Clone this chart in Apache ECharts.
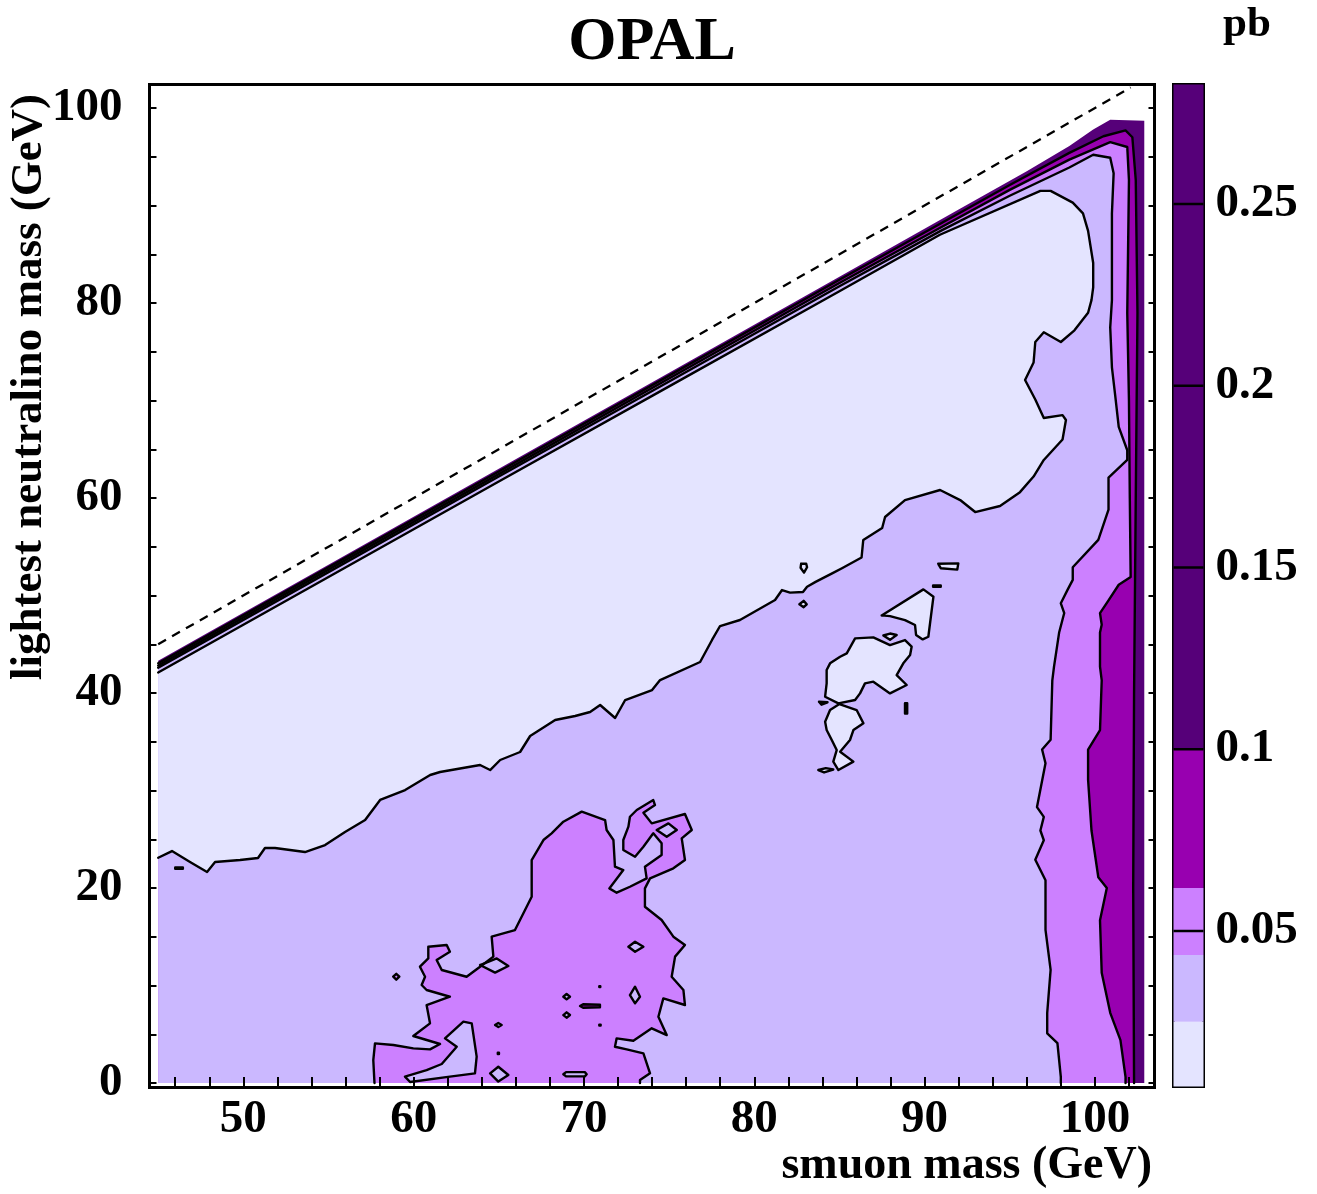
<!DOCTYPE html>
<html><head><meta charset="utf-8">
<script src="https://cdn.jsdelivr.net/npm/echarts@6/dist/echarts.min.js"></script>
<style>html,body{margin:0;padding:0;background:#fff}#c{width:1317px;height:1194px}</style>
</head><body><div id="c"></div>
<script>
const FONT = '"Liberation Serif","Times New Roman","DejaVu Serif",serif';

// ---- axes / scale ----
const smuonTicks = [46,48,50,52,54,56,58,60,62,64,66,68,70,72,74,76,78,80,82,84,86,88,90,92,94,96,98,100,102];
const smuonLabels = [50,60,70,80,90,100];
const neutralinoTicks = [0,5,10,15,20,25,30,35,40,45,50,55,60,65,70,75,80,85,90,95,100];
const neutralinoLabels = [0,20,40,60,80,100];
const scaleLabels = [0.05,0.1,0.15,0.2,0.25];
const contourLevels = [0.05,0.1,0.15,0.2,0.25];
const bandEdges = [0.0,0.025,0.0434,0.0618,0.1,0.3];
const bandColors = ['#E4E4FF','#CBB8FF','#CC80FF','#9800B0','#560079'];
const kinematicLimit = [[45,45],[102.1,102.1]];

// ---- contour regions (smuon mass, neutralino mass) ----
const contourDark = [[45,0],[45,43.3],[55,53.15],[65,63.0],[75,72.85],[85,82.7],[92,89.6],[96,93.5],[98.5,96.1],[99.9,97.8],[100.9,98.8],[102.9,98.7],[102.9,0]];
const contourMagenta = [[45,0],[45,43.05],[55,52.9],[65,62.72],[75,72.55],[85,82.38],[91,88.2],[95,92.1],[98.5,95.4],[100.5,97.1],[101.8,97.7],[102.2,97.0],[102.4,92.6],[102.5,79.0],[102.4,60.0],[102.3,40.0],[102.25,20.0],[102.3,0]];
const contourPink = [[45,0],[45,42.82],[55,52.65],[65,62.45],[75,72.25],[85,82.05],[91,87.8],[95,91.6],[98.5,94.7],[100.9,96.5],[101.9,96.0],[102.0,92.6],[101.9,79.0],[102.0,70.0],[102.05,60.0],[102.1,51.9],[101.4,51.1],[100.8,49.5],[100.3,48.2],[100.4,47.0],[100.3,46.2],[100.3,42.7],[100.4,41.3],[100.3,36.2],[99.6,34.2],[99.6,31.1],[99.8,25.9],[100.2,21.1],[100.7,20.0],[100.3,16.7],[100.4,11.3],[100.9,7.2],[101.5,4.4],[101.8,0.6],[101.8,0]];
const contourLavender = [[45,0],[45,42.6],[55,52.4],[65,62.2],[75,71.95],[85,81.72],[91,87.45],[95,91.0],[98.5,93.9],[99.9,95.2],[100.9,94.9],[101.1,93.3],[101.0,89.2],[101.0,84.1],[101.0,80.3],[100.9,77.5],[101.0,73.4],[101.2,70.4],[101.4,67.3],[101.9,64.9],[101.9,63.9],[100.8,62.1],[100.8,58.8],[100.2,55.7],[98.7,52.9],[98.7,51.6],[98.4,50.6],[98.0,49.2],[98.2,48.2],[97.9,46.2],[97.6,42.7],[97.5,41.3],[97.4,35.2],[96.9,34.2],[97.1,32.8],[96.6,28.3],[97.0,27.3],[96.8,25.9],[97.0,24.9],[96.5,22.9],[97.1,20.8],[97.1,15.7],[97.4,11.6],[97.2,7.2],[97.2,5.1],[97.8,4.1],[98.0,0.6],[98.0,0]];
const contourLightest = [[45,23.1],[45,42.1],[55,51.9],[65,61.7],[75,71.45],[85,81.2],[90.9,87.0],[96.8,91.5],[97.4,91.5],[98.7,90.3],[99.3,89.2],[99.6,87.4],[99.9,84.1],[99.9,81.6],[99.8,80.3],[99.6,79.0],[98.8,77.2],[98.0,76.0],[97.0,77.0],[96.5,76.0],[96.4,73.9],[95.9,72.1],[96.5,70.1],[97.0,68.2],[98.1,68.5],[98.3,68.0],[98.1,66.0],[97.0,63.9],[96.4,62.2],[95.6,60.6],[94.43,59.18],[92.97,58.56],[92.09,59.79],[90.91,60.82],[88.85,59.79],[87.68,58.05],[87.51,56.92],[86.4,55.7],[86.3,53.9],[85.15,52.8],[84.6,52.3],[83.6,51.4],[83.1,50.9],[82.86,50.36],[82.1,50.3],[81.63,50.56],[81.22,49.54],[79.16,47.49],[77.99,46.87],[77.52,45.44],[76.82,43.18],[74.47,41.33],[74.0,40.3],[72.42,39.28],[71.83,37.44],[70.95,38.77],[70.36,38.05],[69.48,37.64],[68.31,37.23],[66.84,35.59],[66.25,33.95],[65.08,33.13],[64.49,32.1],[63.9,32.62],[61.55,31.9],[60.97,31.59],[59.5,30.05],[58.03,29.03],[57.15,26.97],[55.97,25.74],[54.8,24.4],[53.62,23.69],[51.86,24.1],[51.27,24.1],[50.86,23.08],[49.81,22.87],[48.34,22.67],[47.87,21.64],[46.87,22.67],[45.81,23.79]];
const pinkIsland = [[57.7,0],[57.63,2.36],[57.73,4.07],[58.81,3.9],[59.98,3.55],[60.96,3.45],[61.55,4.0],[59.98,4.82],[60.96,6.12],[60.76,8.0],[62.13,8.85],[60.76,9.54],[60.47,10.05],[60.67,10.9],[60.37,11.93],[60.86,12.78],[60.86,13.98],[61.94,14.15],[62.13,13.47],[61.35,12.61],[61.65,11.59],[63.11,10.9],[63.9,11.93],[64.68,12.96],[64.58,15.01],[65.95,15.69],[66.54,17.74],[66.93,19.11],[66.93,22.87],[67.62,24.92],[68.1,25.61],[68.79,26.8],[69.87,27.83],[71.24,26.97],[71.33,25.95],[71.73,24.92],[71.82,22.19],[72.31,21.84],[71.49,19.96],[71.92,19.52],[72.7,20.13],[73.68,20.99],[73.58,22.19],[74.56,23.38],[74.56,24.58],[74.07,25.61],[73.49,24.24],[73.0,23.21],[72.31,23.9],[72.31,24.92],[72.61,26.29],[72.7,27.31],[73.1,28.0],[74.07,29.02],[74.17,28.51],[73.49,27.73],[73.98,26.63],[75.93,27.59],[76.33,25.95],[75.74,25.09],[75.93,22.87],[75.25,22.02],[73.88,20.99],[73.58,19.96],[73.58,18.08],[74.56,16.72],[75.25,15.01],[75.93,14.15],[75.35,12.96],[75.15,10.9],[75.84,9.54],[75.93,8.0],[74.66,8.68],[74.37,6.8],[74.86,4.92],[73.98,5.61],[72.9,4.34],[71.92,4.58],[71.82,3.72],[72.51,3.45],[73.49,3.04],[73.88,0.99],[73.29,0.3],[73.29,0]];
const pinkSmallIsland = [[58.8,10.9],[58.98,11.2],[59.16,10.9],[58.98,10.6]];
const pinkHoles = [
  [[59.49,0.65],[60.76,1.33],[61.65,1.95],[62.53,3.72],[61.84,4.58],[62.92,6.29],[63.41,6.12],[63.7,2.7],[63.6,0.99],[62.13,0.65],[59.79,0.1]],
  [[63.9,12.1],[64.88,12.78],[65.56,12.0],[64.78,11.32]],
  [[72.61,13.98],[73.0,14.49],[73.49,13.98],[73.0,13.47]],
  [[72.7,9.02],[73.0,9.88],[73.29,8.85],[73.0,8.17]],
  [[64.49,0.99],[64.97,1.67],[65.56,0.82],[64.97,0.15]],
  [[74.27,25.95],[74.96,26.63],[75.45,25.95],[74.86,25.26]],
  [[68.79,8.85],[68.98,9.13],[69.18,8.85],[68.98,8.58]],
  [[68.79,6.97],[68.98,7.25],[69.18,6.97],[68.98,6.7]],
  [[64.78,5.95],[64.97,6.15],[65.17,5.95],[64.97,5.75]],
  [[68.79,0.9],[68.95,1.12],[70.05,1.12],[70.16,0.9],[70.05,0.68],[68.95,0.68]],
  [[64.94,3.1],[65.01,3.1],[65.01,2.98],[64.94,2.98]],
  [[70.9,5.99],[70.98,5.99],[70.98,5.9],[70.9,5.9]],
  [[70.9,9.92],[70.96,9.92],[70.96,9.85],[70.9,9.85]]
];
const magentaSpeck = [[69.77,7.9],[69.95,8.08],[70.94,8.03],[70.94,7.77],[69.95,7.72]];
const lightIslands = [
  [[85.92,45.6],[86.99,45.71],[87.97,44.92],[88.85,45.43],[89.24,44.75],[89.15,43.9],[88.75,43.04],[88.36,41.84],[88.95,40.82],[87.97,39.96],[86.99,41.16],[86.5,40.99],[86.21,39.96],[85.92,39.28],[84.94,38.94],[84.16,39.62],[84.25,40.99],[84.25,42.36],[84.45,43.04],[85.04,43.72],[85.43,44.07]],
  [[85.0,38.87],[86.01,38.25],[86.41,36.89],[85.82,36.2],[85.62,35.18],[85.04,33.98],[85.82,32.96],[84.94,32.1],[84.64,32.96],[84.84,34.15],[84.55,35.18],[84.25,36.2],[84.16,37.06],[84.45,38.25]],
  [[87.48,47.96],[89.93,50.63],[90.52,49.88],[90.22,45.77],[89.89,45.5],[89.5,45.95],[89.44,46.97],[88.85,47.48],[87.97,47.89]],
  [[87.58,45.9],[87.97,46.1],[88.36,45.95],[87.97,45.45]],
  [[90.8,53.25],[91.98,53.3],[91.92,52.65],[90.95,52.8]],
  [[82.75,53.25],[83.05,53.25],[83.1,52.9],[82.92,52.35],[82.72,52.85]],
  [[82.65,49.1],[82.9,49.45],[83.08,49.1],[82.9,48.8]],
  [[83.8,39.1],[84.3,39.05],[83.95,38.8]],
  [[83.76,32.1],[84.2,32.3],[84.64,32.15],[84.1,31.85]],
  [[88.85,38.95],[88.98,38.95],[88.98,37.9],[88.85,37.9]],
  [[90.5,51.02],[90.95,51.02],[90.95,50.9],[90.5,50.9]]
];
const lavenderSpeck = [[46.0,22.1],[46.45,22.1],[46.45,21.98],[46.0,21.98]];

// ---- painting order ----
const shapes = [
  {pts: contourDark, color: bandColors[4], line: false},
  {pts: contourMagenta, color: bandColors[3], line: true},
  {pts: contourPink, color: bandColors[2], line: true},
  {pts: contourLavender, color: bandColors[1], line: true},
  {pts: contourLightest, color: bandColors[0], line: true},
  {pts: pinkIsland, color: bandColors[2], line: true},
  {pts: pinkSmallIsland, color: bandColors[2], line: true},
  {pts: lavenderSpeck, color: bandColors[1], line: true}
];
pinkHoles.forEach(p => shapes.push({pts: p, color: bandColors[1], line: true}));
shapes.push({pts: magentaSpeck, color: bandColors[3], line: true});
lightIslands.forEach(p => shapes.push({pts: p, color: bandColors[0], line: true}));

const X_LO = 45, X_HI = 102.9, Y_LO = 0;
function onEdge(a, b) {
  return (a[0] <= X_LO + 1e-3 && b[0] <= X_LO + 1e-3) ||
         (a[1] <= Y_LO + 1e-3 && b[1] <= Y_LO + 1e-3) ||
         (a[0] >= X_HI - 1e-3 && b[0] >= X_HI - 1e-3);
}
function renderShape(params, api) {
  const i = api.value(0);
  const s = shapes[i];
  const pts = s.pts.map(p => api.coord(p));
  const children = [{type: 'polygon', z2: i, shape: {points: pts}, style: {fill: s.color, stroke: null}}];
  if (s.line) {
    const n = s.pts.length, segs = [];
    let cur = [];
    for (let k = 0; k < n; k++) {
      const a = s.pts[k], b = s.pts[(k + 1) % n];
      if (onEdge(a, b)) { if (cur.length > 1) segs.push(cur); cur = []; }
      else { if (!cur.length) cur.push(pts[k]); cur.push(pts[(k + 1) % n]); }
    }
    if (cur.length > 1) segs.push(cur);
    segs.forEach(seg => children.push({type: 'polyline', z2: 1000 + i, shape: {points: seg},
      style: {stroke: '#000', lineWidth: 2.4, fill: null, lineJoin: 'round', lineCap: 'round'}}));
  }
  return {type: 'group', children};
}
function renderBand(params, api) {
  const i = api.value(0);
  const p0 = api.coord([0, bandEdges[i]]), p1 = api.coord([1, bandEdges[i + 1]]);
  return {type: 'rect', shape: {x: p0[0], y: p1[1], width: p1[0] - p0[0], height: p0[1] - p1[1]},
    style: {fill: bandColors[i]}};
}
function renderLevel(params, api) {
  const v = api.value(0);
  const p0 = api.coord([0, v]), p1 = api.coord([1, v]);
  return {type: 'line', shape: {x1: p0[0], y1: p0[1], x2: p1[0], y2: p1[1]}, style: {stroke: '#000', lineWidth: 2.4}};
}

const labelStyle = {fontFamily: FONT, fontSize: 47, fontWeight: 'bold', color: '#000'};
const tickStyle = {color: '#000', width: 2};

const option = {
  animation: false,
  backgroundColor: '#fff',
  grid: [
    {left: 149.5, top: 84.5, width: 1005, height: 1003, show: true, borderColor: '#000', borderWidth: 3, backgroundColor: 'transparent'},
    {left: 1173.5, top: 84.5, width: 30, height: 1002, show: true, borderColor: '#000', borderWidth: 3, backgroundColor: 'transparent'}
  ],
  xAxis: [
    {gridIndex: 0, type: 'value', min: 44.49, max: 103.5, position: 'bottom', z: 10,
     axisLine: {show: false}, splitLine: {show: false},
     axisTick: {show: true, inside: true, length: 6, lineStyle: tickStyle, customValues: smuonTicks},
     axisLabel: Object.assign({show: true, margin: 9, customValues: smuonLabels}, labelStyle)},
    {gridIndex: 0, type: 'value', min: 44.49, max: 103.5, position: 'top', z: 10,
     axisLine: {show: false}, splitLine: {show: false},
     axisTick: {show: true, inside: true, length: 6, lineStyle: tickStyle, customValues: smuonTicks},
     axisLabel: {show: false}},
    {gridIndex: 1, type: 'value', min: 0, max: 1, show: false}
  ],
  yAxis: [
    {gridIndex: 0, type: 'value', min: -0.46, max: 102.41, position: 'left', z: 10,
     axisLine: {show: false}, splitLine: {show: false},
     axisTick: {show: true, inside: true, length: 7, lineStyle: tickStyle, customValues: neutralinoTicks},
     axisLabel: Object.assign({show: true, margin: 27, customValues: neutralinoLabels}, labelStyle)},
    {gridIndex: 0, type: 'value', min: -0.46, max: 102.41, position: 'right', z: 10,
     axisLine: {show: false}, splitLine: {show: false},
     axisTick: {show: true, inside: true, length: 6, lineStyle: tickStyle, customValues: neutralinoTicks},
     axisLabel: {show: false}},
    {gridIndex: 1, type: 'value', min: 0.00722, max: 0.28288, position: 'right', z: 10,
     axisLine: {show: false}, splitLine: {show: false}, axisTick: {show: false},
     axisLabel: Object.assign({show: true, margin: 12, customValues: scaleLabels}, labelStyle)}
  ],
  series: [
    {type: 'custom', xAxisIndex: 0, yAxisIndex: 0, clip: true, z: 2,
     data: shapes.map((s, i) => [i]), renderItem: renderShape, silent: true},
    {type: 'line', xAxisIndex: 0, yAxisIndex: 0, data: kinematicLimit, showSymbol: false, symbol: 'none', z: 5,
     lineStyle: {color: '#000', width: 2.3, type: [9, 7]}, silent: true},
    {type: 'custom', xAxisIndex: 2, yAxisIndex: 2, clip: true, z: 2,
     data: bandColors.map((c, i) => [i]), renderItem: renderBand, silent: true},
    {type: 'custom', xAxisIndex: 2, yAxisIndex: 2, clip: true, z: 3,
     data: contourLevels.map(v => [v]), renderItem: renderLevel, silent: true}
  ],
  graphic: [
    {type: 'text', x: 652, y: 43, style: {text: 'OPAL', font: 'bold 62px ' + FONT, fill: '#000', align: 'center', verticalAlign: 'middle', textAlign: 'center', textVerticalAlign: 'middle'}},
    {type: 'text', x: 1247, y: 25, style: {text: 'pb', font: 'bold 43px ' + FONT, fill: '#000', align: 'center', verticalAlign: 'middle', textAlign: 'center', textVerticalAlign: 'middle'}},
    {type: 'text', x: 1152, y: 1166, style: {text: 'smuon mass (GeV)', font: 'bold 46px ' + FONT, fill: '#000', align: 'right', verticalAlign: 'middle', textAlign: 'right', textVerticalAlign: 'middle'}},
    {type: 'text', x: 29, y: 387, rotation: Math.PI / 2, style: {text: 'lightest neutralino mass (GeV)', font: 'bold 45px ' + FONT, fill: '#000', align: 'center', verticalAlign: 'middle', textAlign: 'center', textVerticalAlign: 'middle'}}
  ]
};
const chart = echarts.init(document.getElementById('c'), null, {renderer: 'canvas'});
chart.setOption(option);
</script>
</body></html>
